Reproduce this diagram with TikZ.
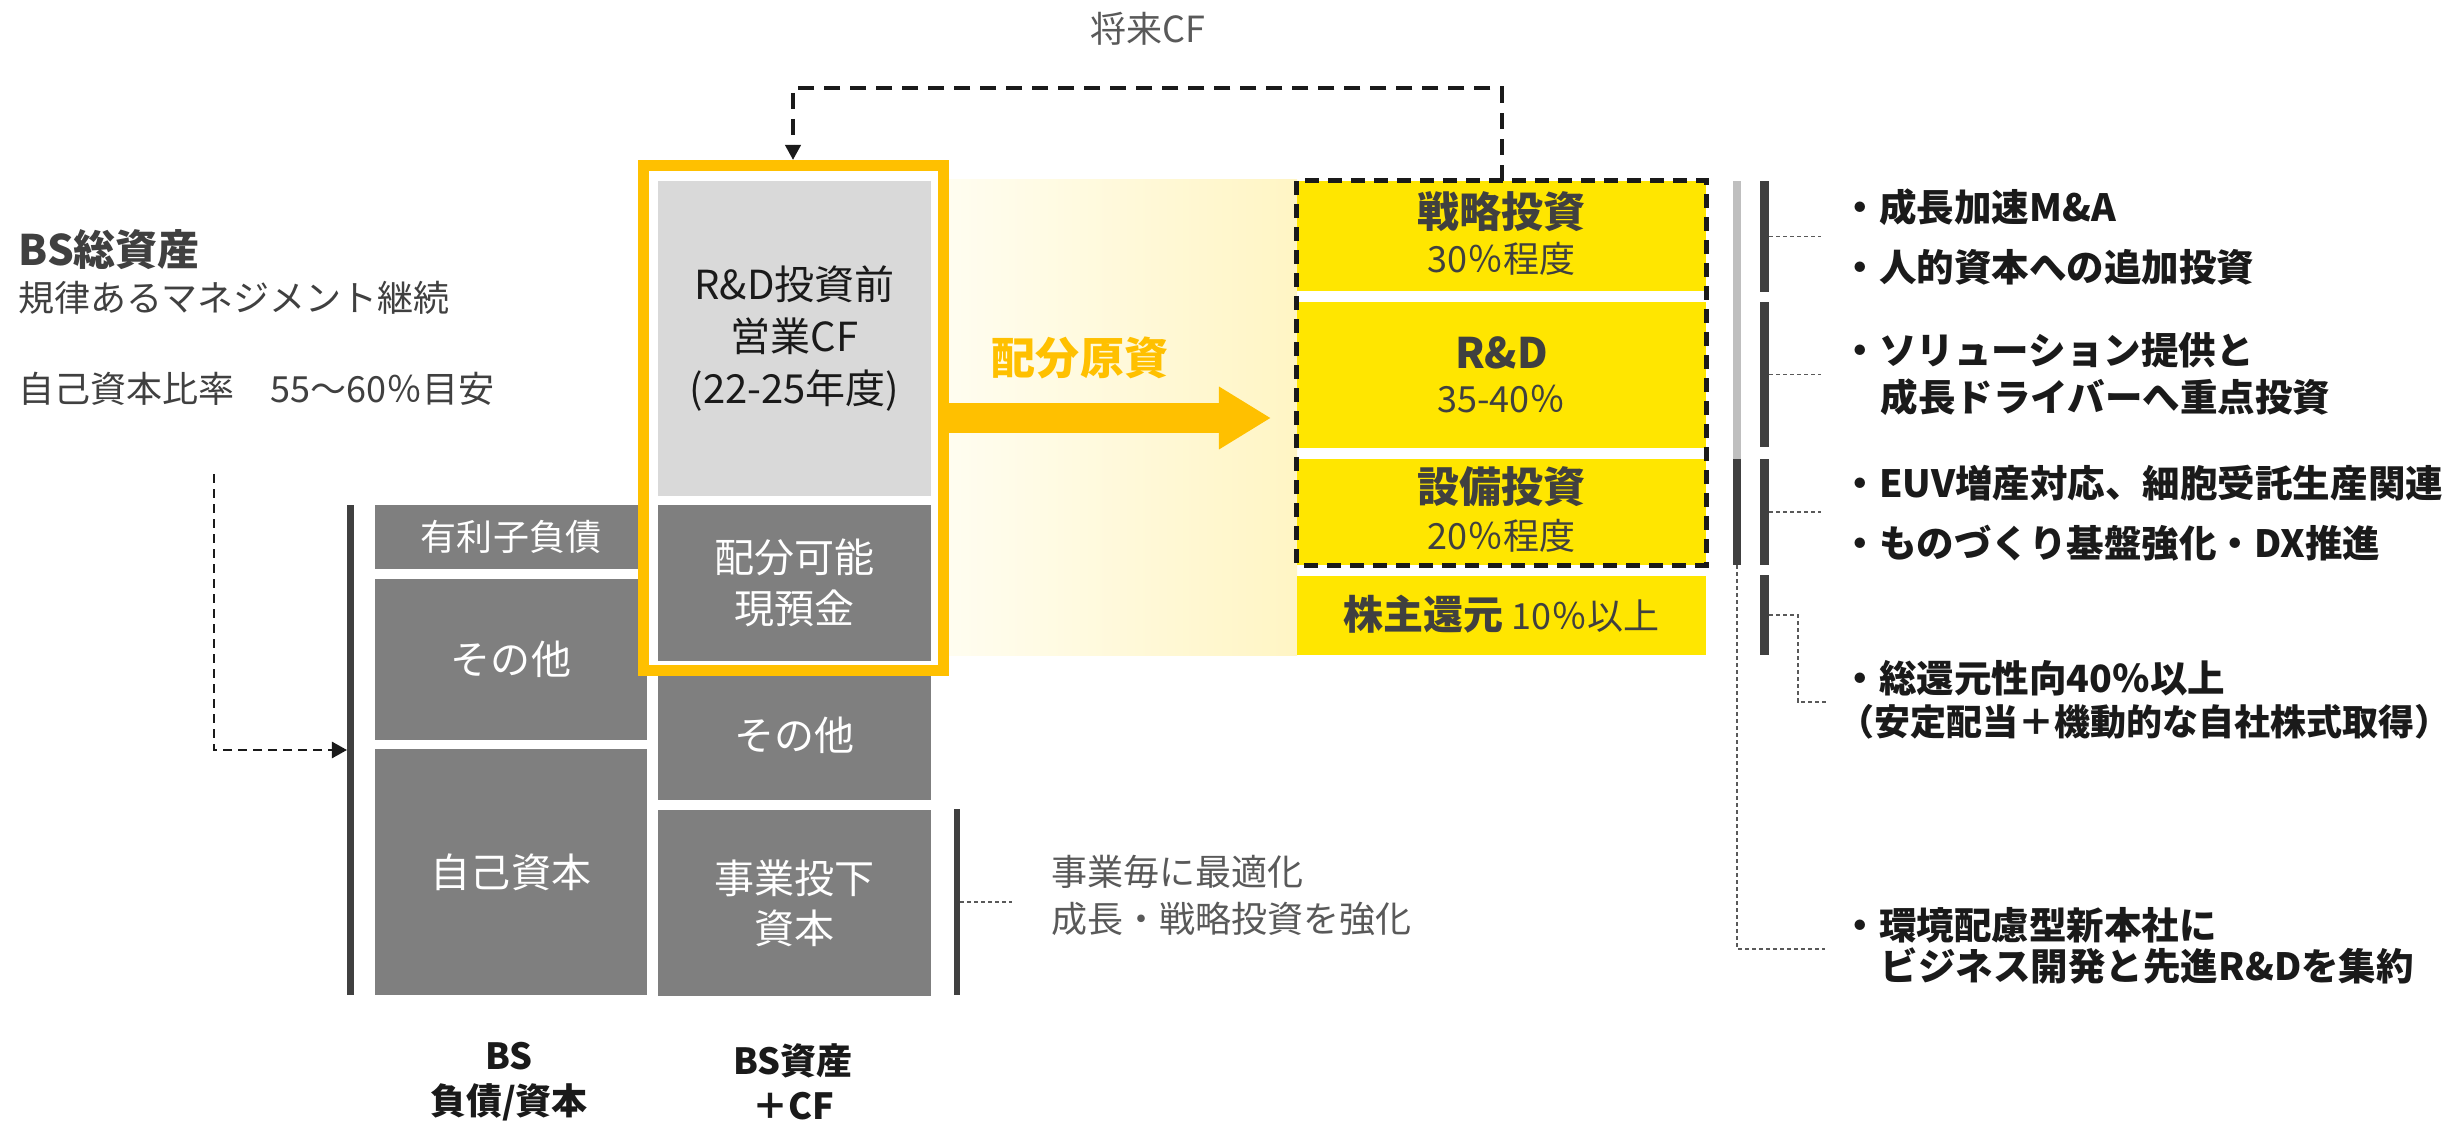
\documentclass[tikz,border=0pt]{standalone}
\usepackage{fontspec}
\setmainfont{Noto Sans CJK JP}
\usetikzlibrary{arrows.meta}
\definecolor{orF}{HTML}{FFC000}
\definecolor{yel}{HTML}{FFE600}
\definecolor{dg}{HTML}{7F7F7F}
\definecolor{lg}{HTML}{D9D9D9}
\definecolor{tx}{HTML}{404040}
\definecolor{tx2}{HTML}{595959}
\definecolor{txb}{HTML}{1A1A1A}
\definecolor{gradL}{HTML}{FFFDF0}
\definecolor{gradR}{HTML}{FFF5C4}
\definecolor{barL}{HTML}{BFBFBF}
\definecolor{barD}{HTML}{404040}
\newcommand\fz[2]{\fontsize{#1pt}{#2pt}\selectfont}
\tikzset{
  box/.style={rectangle, inner sep=0pt, outer sep=0pt, minimum width=2.72cm, align=center},
  gbox/.style={box, fill=dg, text=white, font=\fz{11.38}{14.5}},
  ybox/.style={rectangle, inner sep=0pt, outer sep=0pt, fill=yel, minimum width=4.09cm},
  ttl/.style={inner sep=0pt, text=tx, font=\bfseries\fz{11.95}{14}},
  sublbl/.style={inner sep=0pt, text=tx, font=\fz{10.24}{12}},
  bul/.style={inner sep=0pt, anchor=west, text=txb, font=\bfseries\fz{10.67}{12.5}},
  note/.style={inner sep=0pt, anchor=west, text=tx2, font=\fz{10.24}{12}},
  bar/.style={rectangle, inner sep=0pt, outer sep=0pt, fill=barD, minimum width=0.09cm},
  dotc/.style={draw=tx2, line width=0.015cm, dash pattern=on 0.04cm off 0.03cm},
  blk/.style={inner sep=0pt, align=center, text=txb, font=\bfseries\fz{10.24}{12.8}},
}
\begin{document}
\begin{tikzpicture}[x=0.01cm,y=-0.01cm]
\useasboundingbox[fill=white] (0,0) rectangle (2458,1122);

% gradient band
\shade[left color=gradL, right color=gradR] (949,180) rectangle (1297,655);

% left column (BS liabilities / equity)
\node[gbox, minimum height=0.64cm, font=\fz{10.24}{12}] (debt) at (511,537) {有利子負債};
\node[gbox, minimum height=1.61cm] (oth1) at (511,659.5) {その他};
\node[gbox, minimum height=2.46cm] (eq) at (511,872) {自己資本};

% right column (BS assets + CF)
\node[box, minimum width=2.73cm, fill=lg, text=txb, minimum height=3.15cm, font=\fz{11.38}{14.8}] (rd) at (794.5,338.5) {R\&D投資前\\営業CF\\(22-25年度)};
\node[gbox, minimum width=2.73cm, minimum height=1.56cm] (cash) at (794.5,583) {配分可能\\現預金};
\node[gbox, minimum width=2.73cm, minimum height=1.29cm] (oth2) at (794.5,735.5) {その他};
\node[gbox, minimum width=2.73cm, minimum height=1.86cm, font=\fz{11.38}{14.2}] (biz) at (794.5,903) {事業投下\\資本};

% orange frame
\node[draw=orF, line width=0.11cm, minimum width=3.00cm, minimum height=5.05cm, inner sep=0pt] (frame) at (793.5,418) {};

% big orange arrow
\coordinate (atip) at (1271,418);
\draw[orF, line width=0.30cm, -{Triangle[length=0.52cm, width=0.59cm]}] (frame.east) -- (atip);
\node[inner sep=0pt, text=orF, font=\bfseries\fz{12.52}{14}] (haibun) at (1080,358) {配分原資};

% yellow allocation boxes
\node[ybox, minimum height=1.10cm] (s1) at (1501.5,236) {};
\node[ybox, minimum height=1.46cm] (s2) at (1501.5,375) {};
\node[ybox, minimum height=1.06cm] (s3) at (1501.5,512) {};
\node[ybox, minimum height=0.79cm] (s4) at (1501.5,615.5) {};
\node[ttl] (s1t) at (1501.5,212) {戦略投資};
\node[sublbl] (s1s) at (1501.5,259) {30％程度};
\node[ttl] (s2t) at (1501.5,353) {R\&D};
\node[sublbl] (s2s) at (1501.5,399) {35-40％};
\node[ttl] (s3t) at (1501.5,487) {設備投資};
\node[sublbl] (s3s) at (1501.5,536) {20％程度};
\node[sublbl] (s4t) at (1501.5,614) {{\bfseries\fz{11.38}{14}株主還元} 10％以上};

% dashed group box
\draw[txb, line width=0.05cm, dash pattern=on 0.14cm off 0.09cm] (s1.north west) rectangle (s3.south east);

% future CF loop
\coordinate (ftop) at (793,160);
\draw[txb, line width=0.04cm, dash pattern=on 0.16cm off 0.10cm, -{Triangle[length=0.15cm,width=0.15cm]}] (s1.north) -- ++(0,-93) -| (ftop);
\node[note, anchor=center] (fcf) at (1148,29) {将来CF};

% left labels
\node[inner sep=0pt, anchor=west, text=tx, font=\bfseries\fz{11.95}{14}] (bst) at (18,250) {BS総資産};
\node[note, text=tx] (bs2) at (18,298) {規律あるマネジメント継続};
\node[note, text=tx] (bs3) at (18,389) {自己資本比率　55〜60％目安};

% BS bar and dashed arrow
\node[bar, minimum width=0.07cm, minimum height=4.90cm] (bsbar) at (350.5,750) {};
\coordinate (lstart) at (214,474);
\draw[txb, line width=0.025cm, dash pattern=on 0.09cm off 0.06cm, -{Triangle[length=0.15cm,width=0.16cm]}] (lstart) |- (bsbar.west);

% business capital bar and note
\node[bar, minimum width=0.06cm, minimum height=1.86cm] (bizbar) at (957,902) {};
\draw[dotc] (bizbar.east) -- ++(52,0);
\node[note] (n1) at (1051,872) {事業毎に最適化};
\node[note] (n2) at (1051,919) {成長・戦略投資を強化};

% right side bars
\node[bar, fill=barL, minimum width=0.08cm, minimum height=2.78cm] (g1) at (1737,320) {};
\node[bar, minimum width=0.08cm, minimum height=1.06cm] (g2) at (1737,512) {};
\node[bar, minimum height=1.11cm] (b1) at (1764.5,236.5) {};
\node[bar, minimum height=1.45cm] (b2) at (1764.5,374.5) {};
\node[bar, minimum height=1.06cm] (b3) at (1764.5,512) {};
\node[bar, minimum height=0.80cm] (b4) at (1764.5,615) {};
\draw[dotc] (b1.east) -- ++(52,0);
\draw[dotc] (b2.east) -- ++(52,0);
\draw[dotc] (b3.east) -- ++(52,0);
\draw[dotc] (b4.east) -- ++(29,0) -- ++(0,87) -- ++(29,0);
\draw[dotc] (g2.south) -- ++(0,384) -- ++(88,0);

% right bullet texts
\node[bul] (r1) at (1841,207) {・成長加速M\&A};
\node[bul] (r2) at (1841,267) {・人的資本への追加投資};
\node[bul] (r3) at (1841,350) {・ソリューション提供と};
\node[bul] (r3b) at (1880,397) {成長ドライバーへ重点投資};
\node[bul] (r4) at (1841,483) {・EUV増産対応、細胞受託生産関連};
\node[bul] (r5) at (1841,543) {・ものづくり基盤強化・DX推進};
\node[bul] (r6) at (1841,678) {・総還元性向40％以上};
\node[bul, font=\bfseries\fz{10.24}{12}] (r6b) at (1838,722) {（安定配当＋機動的な自社株式取得）};
\node[bul] (r7) at (1841,925) {・環境配慮型新本社に};
\node[bul] (r7b) at (1880,966) {ビジネス開発と先進R\&Dを集約};

% bottom labels
\node[blk] (lbl1) at (509,1081.5) {BS\\負債/資本};
\node[blk] (lbl2) at (793,1081.5) {BS資産\\＋CF};
\end{tikzpicture}
\end{document}
